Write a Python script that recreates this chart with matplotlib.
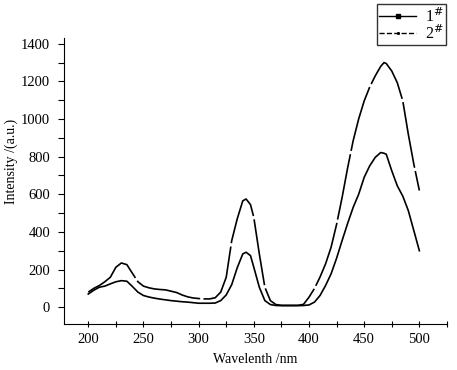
import matplotlib
matplotlib.use("Agg")
import matplotlib.pyplot as plt
from matplotlib.lines import Line2D
from matplotlib.ticker import MultipleLocator

plt.rcParams['font.family'] = ['Liberation Serif', 'DejaVu Serif']

wavelength = [200, 205, 210, 215, 220, 225, 230, 235, 240, 245, 250, 255, 260, 265, 270,
              275, 280, 285, 290, 295, 300, 305, 310, 315, 320, 325, 330, 335, 340, 343,
              347, 350, 355, 360, 365, 370, 375, 380, 385, 390, 395, 400, 405, 410, 415,
              420, 425, 430, 435, 440, 445, 450, 455, 460, 465, 468, 470, 475, 480, 485,
              490, 495, 500]

sample1 = [70, 90, 106, 112, 124, 135, 141, 138, 110, 80, 62, 54, 48, 43, 39,
           35, 32, 29, 27, 24, 21, 21, 21, 22, 35, 65, 120, 210, 283, 292,
           274, 212, 106, 35, 14, 9, 8, 8, 8, 8, 9, 12, 27, 62, 115,
           177, 260, 354, 445, 530, 600, 690, 751, 796, 822, 818, 813, 725, 645, 590,
           513, 407, 300]

sample2 = [80, 100, 115, 135, 159, 212, 235, 226, 180, 135, 112, 103, 97, 94, 92,
           85, 78, 65, 55, 49, 46, 44, 44, 50, 80, 159, 354, 470, 565, 575,
           545, 477, 283, 106, 35, 14, 10, 10, 10, 10, 15, 53, 100, 160, 230,
           318, 440, 583, 740, 884, 1000, 1096, 1170, 1229, 1280, 1300, 1295, 1255, 1193, 1096,
           919, 760, 620]

fig = plt.figure(figsize=(4.57, 3.70), dpi=100)
ax = fig.add_axes([0.140, 0.124, 0.838, 0.773])

ax.plot(wavelength, sample1, color='black', lw=1.2, linestyle='-')
ax.plot(wavelength, sample2, color='black', lw=1.2, dashes=(40, 2))

ax.set_xlim(178, 525)
ax.set_ylim(-90, 1430)
ax.spines['top'].set_visible(False)
ax.spines['right'].set_visible(False)
ax.xaxis.set_major_locator(MultipleLocator(50))
ax.xaxis.set_minor_locator(MultipleLocator(25))
ax.yaxis.set_major_locator(MultipleLocator(200))
ax.yaxis.set_minor_locator(MultipleLocator(100))
ax.tick_params(axis='x', which='both', direction='inout', length=5, width=0.8, labelsize=10.5, pad=4)
ax.tick_params(axis='y', which='both', direction='out', length=4, width=0.8, labelsize=10.5, pad=6)

ax.set_xlabel('Wavelenth /nm', fontsize=10, labelpad=5)
ax.set_ylabel('Intensity /(a.u.)', fontsize=10)
ax.yaxis.set_label_coords(-0.12, 0.57)

handles = [Line2D([], [], color='black', lw=1.0, marker='s', markersize=2.5),
           Line2D([], [], color='black', lw=1.0, linestyle='--', marker='.', markersize=2.5)]
leg = fig.legend(handles, ['1$^{\\#}$', '2$^{\\#}$'], loc='upper right',
                 bbox_to_anchor=(0.977, 0.988), borderaxespad=0, fontsize=11.5, frameon=True,
                 fancybox=False, edgecolor='black', handlelength=2.3, borderpad=0.15,
                 labelspacing=-0.1, handletextpad=0.6)
leg.get_frame().set_linewidth(1.0)

fig.savefig('out.png', dpi=100)
